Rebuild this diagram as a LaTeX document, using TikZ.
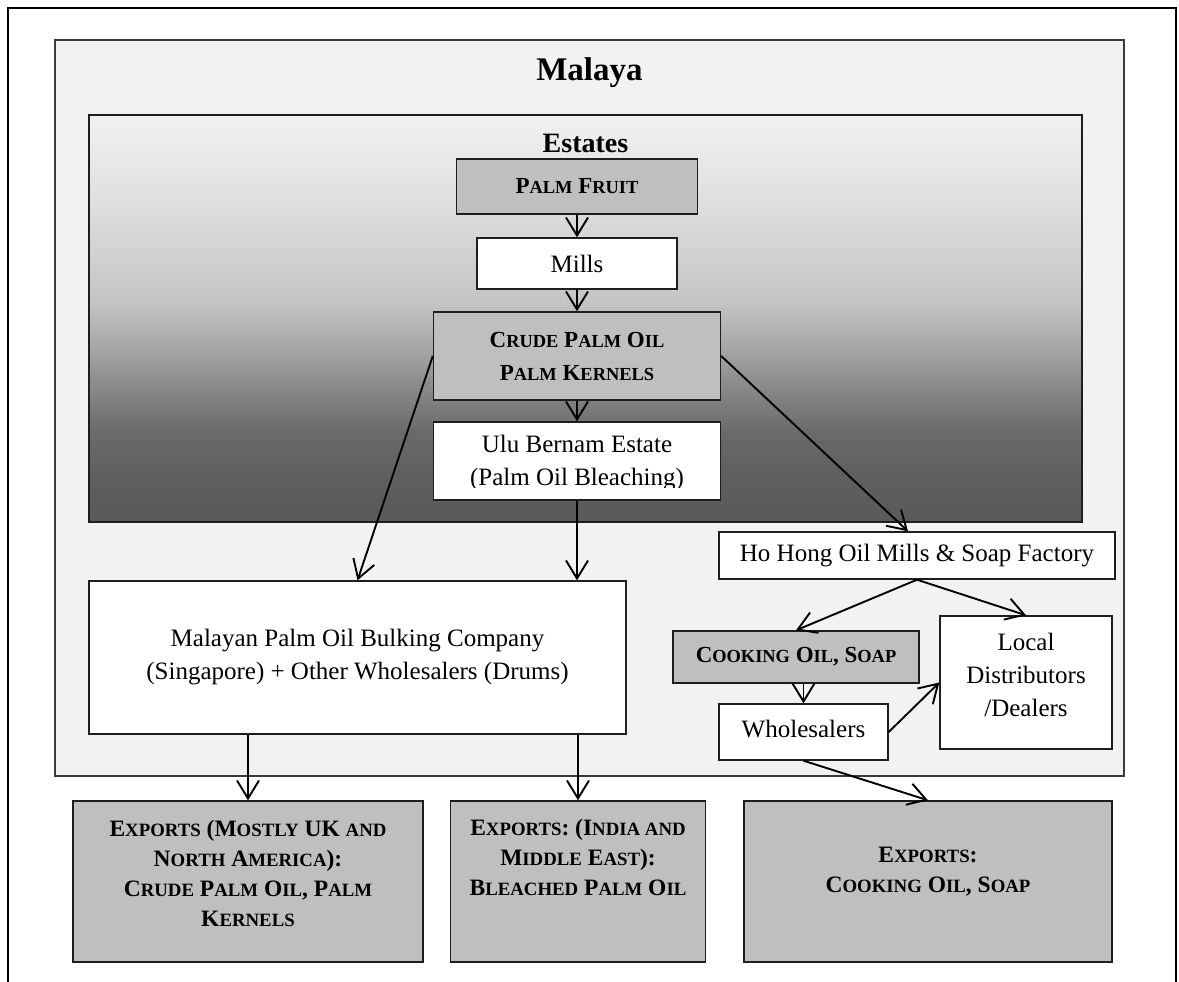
\documentclass[tikz,border=0pt]{standalone}
\usepackage{fontspec}
\setmainfont{Liberation Serif}
\usetikzlibrary{arrows.meta,calc}
\definecolor{lightbg}{HTML}{F2F2F2}
\definecolor{boxgray}{HTML}{BFBFBF}
\definecolor{edge}{HTML}{1E1E1E}
\definecolor{frameedge}{HTML}{3A3A3A}
\definecolor{sA}{RGB}{90,90,90}
\definecolor{sB}{RGB}{95,95,95}
\definecolor{sC}{RGB}{106,106,106}
\definecolor{sD}{RGB}{128,128,128}
\definecolor{sE}{RGB}{158,158,158}
\definecolor{sF}{RGB}{196,196,196}
\definecolor{sG}{RGB}{222,222,222}
\definecolor{sH}{RGB}{241,241,241}
\pgfdeclareverticalshading{estshade}{100bp}{color(0bp)=(sA); color(25bp)=(sA); color(31bp)=(sB); color(36bp)=(sC); color(40bp)=(sD); color(45bp)=(sE); color(52bp)=(sF); color(64bp)=(sG); color(75bp)=(sH); color(100bp)=(sH)}
\newcommand\smallcapsize{}
\newcommand\Sm[1]{{\smallcapsize #1}}
\begin{document}
\begin{tikzpicture}[x=1pt,y=-1pt,
  every node/.style={inner sep=0pt},
  box/.style={draw=edge,line width=1.4pt,rectangle,align=center,font=\fontsize{25}{33}\selectfont},
  wbox/.style={box,fill=white},
  gbox/.style={box,fill=boxgray,font=\fontsize{23}{33}\selectfont\bfseries\renewcommand\smallcapsize{\fontsize{18.4}{33}\selectfont}},
  ebox/.style={box,fill=boxgray},
  btext/.style={align=center,font=\fontsize{25}{33}\selectfont},
  etext/.style={align=center,font=\fontsize{23.5}{30}\selectfont\bfseries\renewcommand\smallcapsize{\fontsize{18.8}{30}\selectfont}},
  arr/.style={line width=1.9pt,-{Straight Barb[length=18pt,width=22pt]}}
]
\useasboundingbox (0,0) rectangle (1179,982);
% outer frame (open at bottom)
\draw[line width=2.6pt] (8,982) -- (8,8) -- (1176,8) -- (1176,982);
% Malaya
\draw[fill=lightbg,draw=frameedge,line width=1.7pt] (55,40) rectangle (1124,776);
\node[font=\fontsize{33}{36}\selectfont\bfseries] (malayatitle) at (589.5,73) {Malaya};
% Estates
\shade[shading=estshade,draw=edge,line width=1.4pt] (89,115) rectangle (1082,522);
\node[font=\fontsize{28}{30}\selectfont\bfseries] (estatestitle) at (585.5,143) {Estates};

\node[gbox,minimum width=241,minimum height=55] (palm) at (577,186.5) {P\Sm{ALM} F\Sm{RUIT}};
\node[wbox,minimum width=200,minimum height=51] (mills) at (577,263.5) {Mills};
\node[gbox,minimum width=287,minimum height=88] (crude) at (577,356) {C\Sm{RUDE} P\Sm{ALM} O\Sm{IL}\\P\Sm{ALM} K\Sm{ERNELS}};
\node[wbox,minimum width=287,minimum height=78] (ulu) at (577,461) {};
\begin{scope}
\clip (433,422) rectangle (720,487);
\node[btext] (ulutext) at (577,463) {Ulu Bernam Estate\\(Palm Oil Bleaching)};
\end{scope}

\node[wbox,minimum width=537,minimum height=153] (malayan) at (357.5,657.5) {Malayan Palm Oil Bulking Company\\(Singapore) + Other Wholesalers (Drums)};
\node[wbox,minimum width=396,minimum height=47] (hohong) at (917,555.5) {Ho Hong Oil Mills \& Soap Factory};
\node[gbox,minimum width=246,minimum height=52] (cooking) at (796,657) {C\Sm{OOKING} O\Sm{IL}, S\Sm{OAP}};
\node[wbox,minimum width=169,minimum height=56] (wholesalers) at (803.5,732) {};
\node[btext] (wholesalerstext) at (803.5,729) {Wholesalers};
\node[wbox,minimum width=172,minimum height=133] (local) at (1026,682.5) {};
\node[btext] (localtext) at (1026,675) {Local\\Distributors\\/Dealers};

\node[ebox,minimum width=350,minimum height=161] (export1) at (248,881.5) {};
\node[etext] (export1text) at (248,873) {E\Sm{XPORTS} (M\Sm{OSTLY} UK \Sm{AND}\\N\Sm{ORTH} A\Sm{MERICA}):\\C\Sm{RUDE} P\Sm{ALM} O\Sm{IL}, P\Sm{ALM}\\K\Sm{ERNELS}};
\node[ebox,minimum width=255,minimum height=161] (export2) at (578,881.5) {};
\node[etext] (export2text) at (578,857) {E\Sm{XPORTS}: (I\Sm{NDIA AND}\\M\Sm{IDDLE} E\Sm{AST}):\\B\Sm{LEACHED} P\Sm{ALM} O\Sm{IL}};
\node[ebox,minimum width=368,minimum height=161] (export3) at (928,881.5) {};
\node[etext] (export3text) at (928,872) {E\Sm{XPORTS}:\\C\Sm{OOKING} O\Sm{IL}, S\Sm{OAP}};

% connectors
\draw[arr] (palm.south) -- (mills.north);
\draw[arr] (mills.south) -- (crude.north);
\draw[arr] (crude.south) -- (ulu.north);
\draw[arr] (crude.west) -- (malayan.north);
\draw[arr] (ulu.south) -- (ulu.south |- malayan.north);
\draw[arr] (crude.east) -- ([xshift=-9pt]hohong.north);
\draw[arr] (hohong.south) -- (cooking.north);
\draw[arr] (hohong.south) -- (local.north);
\draw[arr] (wholesalers.north |- cooking.south) -- (wholesalers.north);
\draw[arr] (wholesalers.east) -- (local.west);
\draw[arr] (wholesalers.south) -- (export3.north);
\draw[arr] (export1.north |- malayan.south) -- (export1.north);
\draw[arr] (export2.north |- malayan.south) -- (export2.north);
\end{tikzpicture}
\end{document}
